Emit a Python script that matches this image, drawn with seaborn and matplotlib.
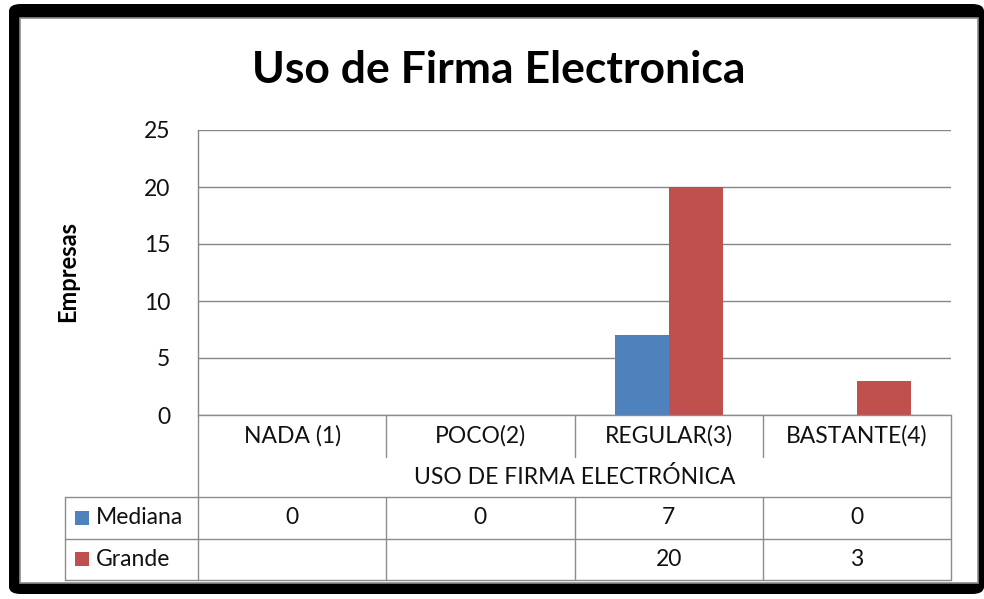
import matplotlib
matplotlib.use("Agg")
import matplotlib.pyplot as plt
import matplotlib.transforms as mtransforms
from matplotlib.lines import Line2D
from matplotlib.patches import FancyBboxPatch, Rectangle
import numpy as np
import pandas as pd
import seaborn as sns

# Data
categorias = ["NADA (1)", "POCO(2)", "REGULAR(3)", "BASTANTE(4)"]
series = ["Mediana", "Grande"]
mediana = [0, 0, 7, 0]
grande = [np.nan, np.nan, 20, 3]
colores = ["#4F81BD", "#C0504D"]

titulo = "Uso de Firma Electronica"
eje_y = "Empresas"
eje_x = "USO DE FIRMA ELECTRÓNICA"
yticks = [0, 5, 10, 15, 20, 25]

sns.set_theme(style="white")
plt.rcParams["font.family"] = ["Lato", "DejaVu Sans"]

W, H = 984, 599
fig = plt.figure(figsize=(W / 100, H / 100), dpi=100)
fig.patch.set_facecolor("white")


def fx(x):
    return x / W


def fy(y):
    return 1 - y / H


# Frame with dark shadow border
fig.add_artist(FancyBboxPatch((fx(9), fy(594)), fx(975), 590 / H,
                              boxstyle="round,pad=0,rounding_size=0.012",
                              transform=fig.transFigure, facecolor="#000000",
                              edgecolor="none", zorder=-2))
fig.add_artist(Rectangle((fx(20), fy(583)), fx(958), 565 / H,
                         transform=fig.transFigure, facecolor="white",
                         edgecolor="#8c8c8c", linewidth=1.2, zorder=-1))

# Plot area
left, right, top, bottom = 198, 951, 130, 415
ax = fig.add_axes([fx(left), fy(bottom), (right - left) / W, (bottom - top) / H])
ax.set_facecolor("none")

df = pd.DataFrame({
    "categoria": categorias * 2,
    "serie": [series[0]] * 4 + [series[1]] * 4,
    "empresas": mediana + grande,
})

sns.barplot(data=df, x="categoria", y="empresas", hue="serie", order=categorias,
            hue_order=series, palette=colores, width=0.574, errorbar=None,
            saturation=1, legend=False, linewidth=0, ax=ax)

fs = 16.5
tc = "#111111"

ax.set_xlim(-0.5, 3.5)
ax.set_ylim(0, 25)
ax.set_yticks(yticks)
ax.set_yticklabels([str(t) for t in yticks], fontsize=fs, color=tc)
ax.tick_params(axis="y", length=0, pad=20)
ax.set_xticks([])
ax.set_xlabel("")
ax.set_ylabel(eje_y, fontsize=17, fontweight="bold", color="black")
ax.yaxis.set_label_coords(-0.158, 0.502)
ax.yaxis.grid(True, color="#868686", linewidth=1.0)
ax.set_axisbelow(True)
for s in ["top", "right", "bottom"]:
    ax.spines[s].set_visible(False)
ax.spines["left"].set_color("#868686")
ax.spines["left"].set_linewidth(1.0)

# Title
fig.text(fx(499), fy(70), titulo, fontsize=32, fontweight="bold",
         ha="center", va="center", color="black")

# Data table below plot (x in data coords, y in figure coords)
tr = mtransforms.blended_transform_factory(ax.transData, fig.transFigure)
lc = "#8c8c8c"


def hline(x0, x1, y, transform):
    fig.add_artist(Line2D([x0, x1], [fy(y), fy(y)], transform=transform,
                          color=lc, linewidth=1.0))


def vline(x, y0, y1, transform):
    fig.add_artist(Line2D([x, x], [fy(y0), fy(y1)], transform=transform,
                          color=lc, linewidth=1.0))


hline(-0.5, 3.5, 415, tr)
for b in [0.5, 1.5, 2.5]:
    vline(b, 415, 457, tr)
    vline(b, 497, 580, tr)
vline(-0.5, 415, 580, tr)
vline(3.5, 415, 580, tr)
for y in [497, 539, 580]:
    hline(fx(65), fx(951), y, fig.transFigure)
vline(fx(65), 497, 580, fig.transFigure)

for i, c in enumerate(categorias):
    fig.text(i, fy(436), c, transform=tr, ha="center", va="center",
             fontsize=fs, color=tc)
fig.text(1.5, fy(477), eje_x, transform=tr, ha="center", va="center",
         fontsize=fs, color=tc)

rows_y = [518, 559]
for nombre, valores, color, yy in zip(series, [mediana, grande], colores, rows_y):
    fig.add_artist(Rectangle((fx(75), fy(yy + 7)), fx(14), 14 / H,
                             transform=fig.transFigure, facecolor=color,
                             edgecolor="none"))
    fig.text(fx(96), fy(yy), nombre, ha="left", va="center", fontsize=fs,
             color=tc)
    for i, v in enumerate(valores):
        if not np.isnan(v):
            fig.text(i, fy(yy), f"{v:g}", transform=tr, ha="center",
                     va="center", fontsize=fs, color=tc)

fig.savefig("out.png", dpi=100)
